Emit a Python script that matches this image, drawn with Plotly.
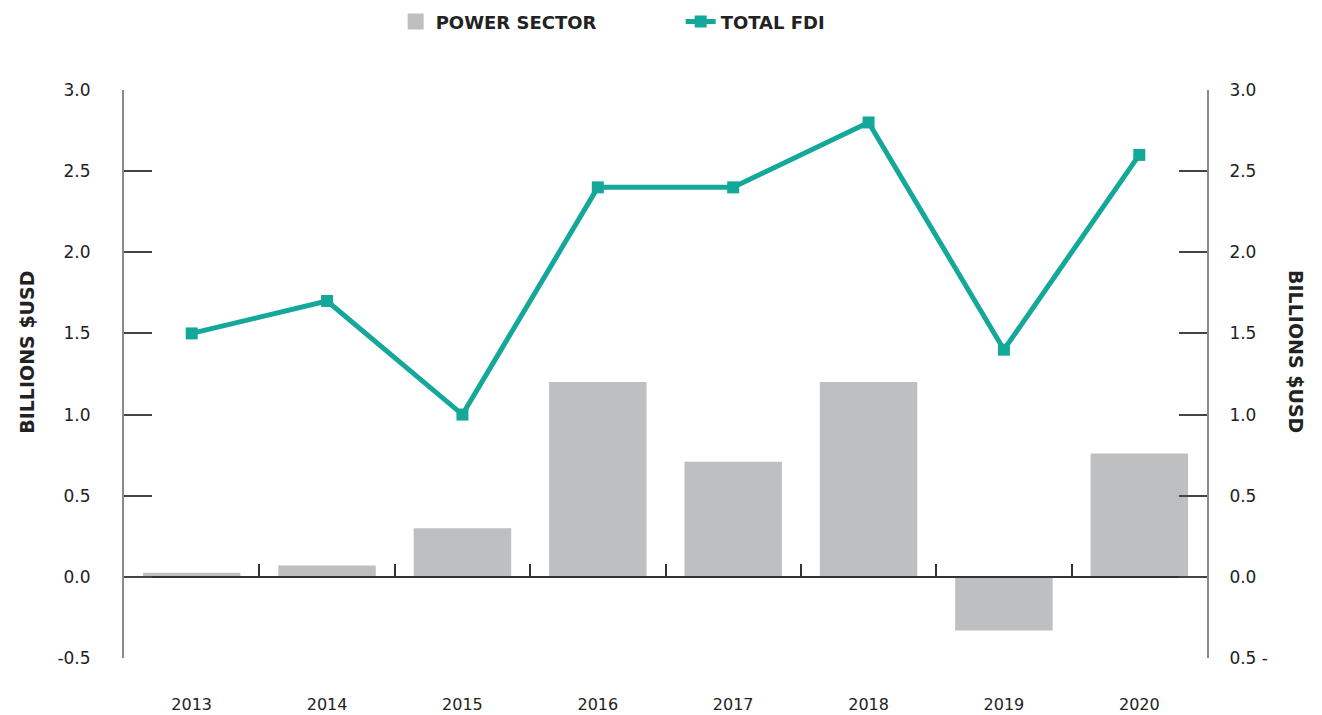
import plotly.graph_objects as go

years = ["2013", "2014", "2015", "2016", "2017", "2018", "2019", "2020"]
power_sector = [0.025, 0.07, 0.30, 1.20, 0.71, 1.20, -0.33, 0.76]
total_fdi = [1.50, 1.70, 1.00, 2.40, 2.40, 2.80, 1.40, 2.60]

y_ticks = [-0.5, 0.0, 0.5, 1.0, 1.5, 2.0, 2.5, 3.0]
left_tick_text = ["-0.5", "0.0", "0.5", "1.0", "1.5", "2.0", "2.5", "3.0"]
right_tick_text = ["0.5 -", "0.0", "0.5", "1.0", "1.5", "2.0", "2.5", "3.0"]

TEAL = "#14A89A"
GREY = "#BEBFC1"
FONT = "DejaVu Sans"
TXT = "#222222"

fig = go.Figure()
fig.add_trace(go.Bar(x=years, y=power_sector, marker=dict(color=GREY, line=dict(width=0)),
                     name="POWER SECTOR", showlegend=False, xaxis="x", yaxis="y"))
# legend-only entry for the bar series (larger square symbol)
fig.add_trace(go.Scatter(x=[None], y=[None], mode="markers", name="POWER SECTOR",
                         marker=dict(symbol="square", size=16, color=GREY), xaxis="x", yaxis="y"))
fig.add_trace(go.Scatter(x=years, y=total_fdi, mode="lines+markers", name="TOTAL FDI",
                         line=dict(color=TEAL, width=5),
                         marker=dict(symbol="square", size=12, color=TEAL),
                         xaxis="x2", yaxis="y2"))

yr = [-0.5, 3.0]
fig.update_layout(
    width=1314, height=707,
    margin=dict(l=116, r=115, t=82, b=57, autoexpand=False),
    paper_bgcolor="white", plot_bgcolor="white",
    font=dict(family=FONT, color=TXT, size=16),
    bargap=0.28,
    xaxis=dict(type="category", categoryarray=years, range=[-0.5, 7.5],
               showline=False, showgrid=False, zeroline=False, ticks="",
               tickfont=dict(size=16, color=TXT), ticklabelstandoff=35),
    xaxis2=dict(type="category", categoryarray=years, range=[-0.5, 7.5], overlaying="x",
                anchor="free", position=(0 - yr[0]) / (yr[1] - yr[0]),
                showline=True, linecolor="#333333", linewidth=2,
                ticks="inside", tickson="boundaries", ticklen=12, tickwidth=2, tickcolor="#333333",
                showticklabels=False, showgrid=False, zeroline=False),
    yaxis=dict(range=yr, tickvals=y_ticks, ticktext=left_tick_text,
               showline=True, linecolor="#8a8a8a", linewidth=2,
               ticks="inside", ticklen=28, tickwidth=1.5, tickcolor="#444444",
               showgrid=False, zeroline=False, ticklabelstandoff=28,
               tickfont=dict(size=17, color=TXT)),
    yaxis2=dict(range=yr, tickvals=y_ticks, ticktext=right_tick_text, overlaying="y",
                side="right", anchor="x2",
                showline=True, linecolor="#8a8a8a", linewidth=2,
                ticks="inside", ticklen=28, tickwidth=1.5, tickcolor="#444444",
                showgrid=False, zeroline=False, ticklabelstandoff=17,
                tickfont=dict(size=17, color=TXT)),
    legend=dict(orientation="h", x=0.514, xanchor="center", y=1.12, yanchor="middle",
                font=dict(size=18, color=TXT, weight="bold"),
                entrywidth=240, entrywidthmode="pixels",
                traceorder="normal"),
    annotations=[
        dict(text="<b>BILLIONS $USD</b>", xref="paper", yref="paper", x=-0.0896, y=0.539,
             xanchor="center", yanchor="middle",
             textangle=-90, showarrow=False, font=dict(size=19, color=TXT)),
        dict(text="<b>BILLIONS $USD</b>", xref="paper", yref="paper", x=1.082, y=0.539,
             xanchor="center", yanchor="middle",
             textangle=90, showarrow=False, font=dict(size=19, color=TXT)),
    ],
)

fig.write_html("out.html")
